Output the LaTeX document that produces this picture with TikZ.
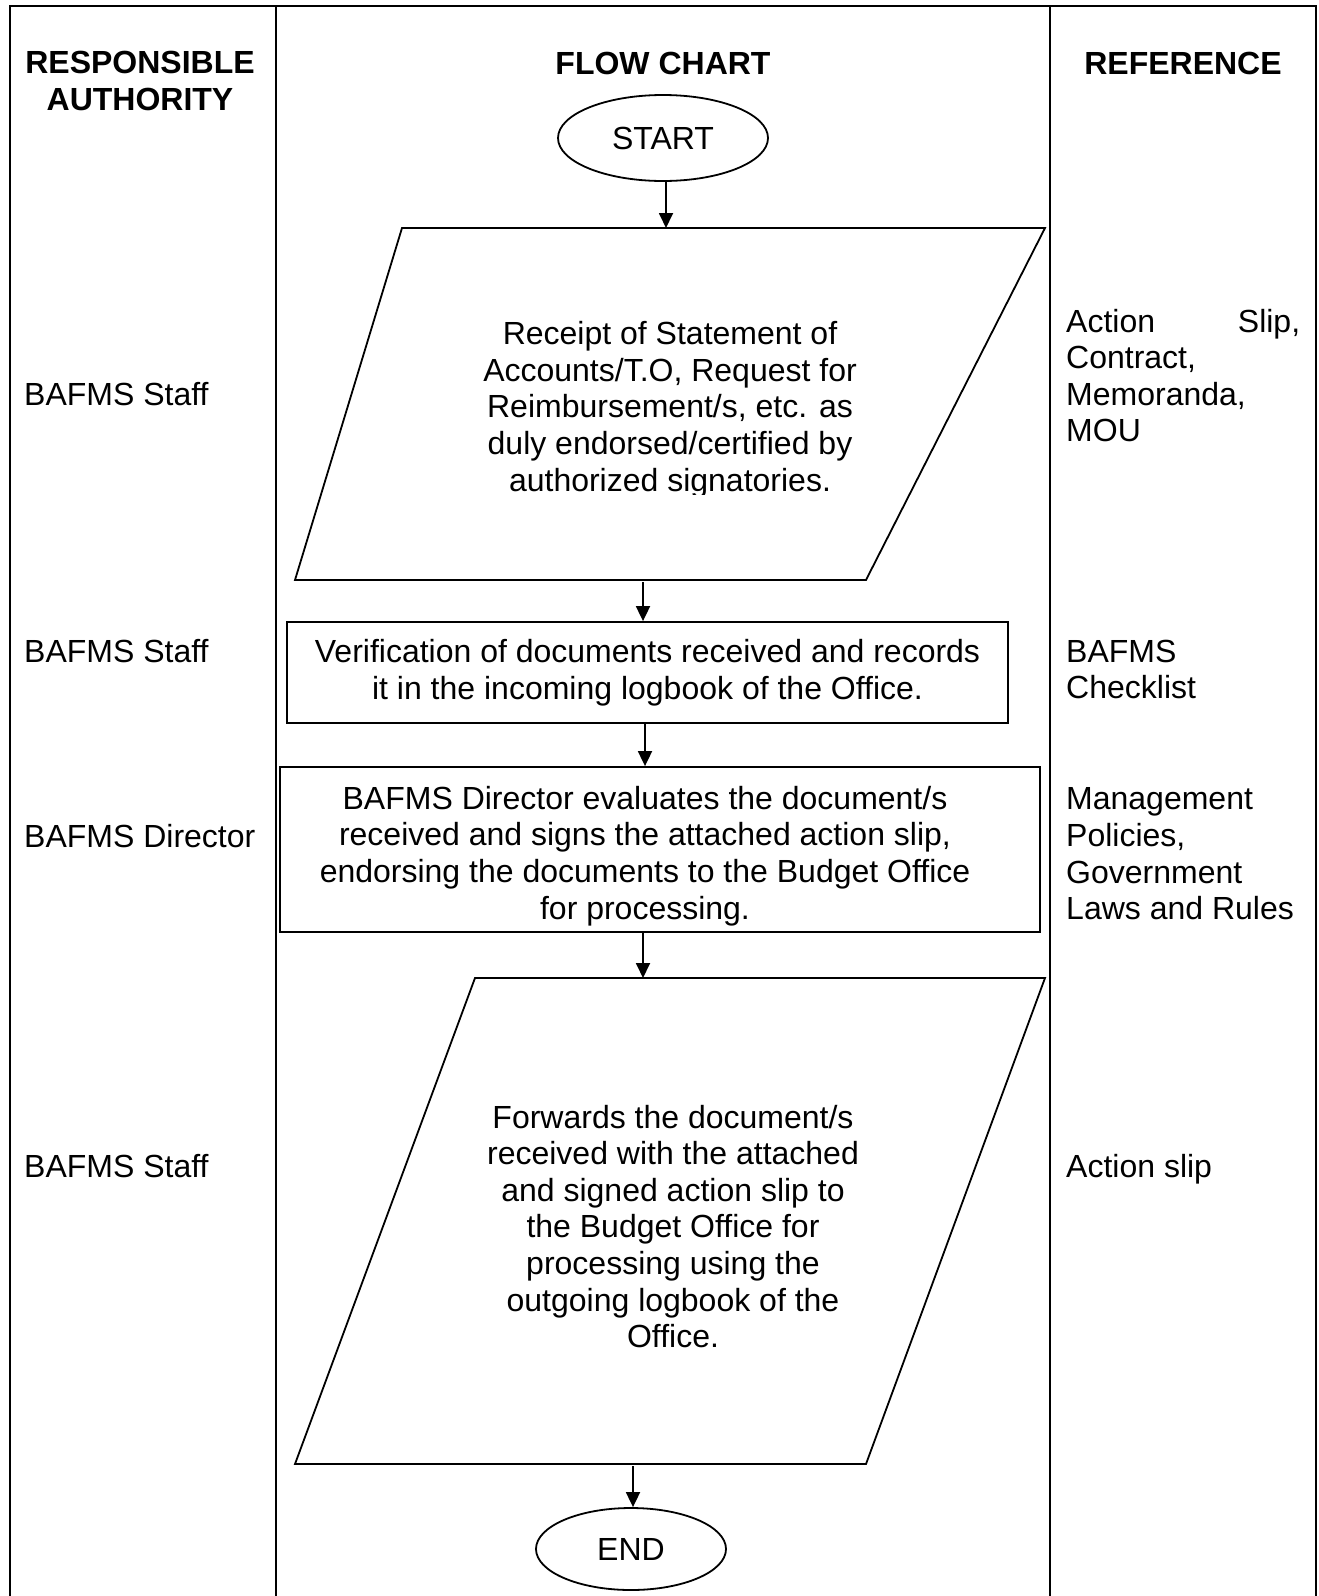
\documentclass[tikz,border=0pt]{standalone}
\usepackage{fontspec}
\setmainfont{Liberation Sans}
\usetikzlibrary{arrows.meta,shapes.geometric}
\begin{document}
\begin{tikzpicture}[x=1pt,y=-1pt,
  every node/.style={font=\fontsize{32}{36.6}\selectfont, inner sep=0pt},
  hdr/.style={font=\fontsize{32}{36.6}\selectfont\bfseries, align=center},
  frame/.style={line width=2.4pt},
  shapeline/.style={line width=1.8pt, line join=miter},
  arr/.style={line width=1.8pt, -{Triangle[length=15pt,width=14pt]}},
  term/.style={ellipse, draw, line width=1.8pt},
  procbox/.style={draw, line width=1.8pt},
  txt/.style={align=center},
  lefttxt/.style={anchor=base west},
  reftxt/.style={anchor=west, align=left},
]
\useasboundingbox (0,0) rectangle (1319,1596);
\fill[white] (0,0) rectangle (1319,1596);
% frame
\draw[frame] (10,1596) -- (10,6) -- (1316,6) -- (1316,1596);
\draw[frame] (276,6) -- (276,1596);
\draw[frame] (1050,6) -- (1050,1596);
% headers
\node[hdr] (hResp) at (140,81) {RESPONSIBLE\\AUTHORITY};
\node[hdr] (hFlow) at (663,63) {FLOW CHART};
\node[hdr] (hRef) at (1183,63) {REFERENCE};
% start
\node[term, minimum width=210pt, minimum height=86pt] (start) at (663,138) {START};
% P1
\coordinate (p1a) at (402,228);
\coordinate (p1b) at (1045,228);
\coordinate (p1c) at (866,580);
\coordinate (p1d) at (295,580);
\draw[shapeline] (p1a) -- (p1b) -- (p1c) -- (p1d) -- cycle;
\begin{scope}
\clip (295,228) rectangle (1045,494);
\node[txt] (p1) at (670,409.7) {Receipt of Statement of\\Accounts/T.O, Request for\\Reimbursement/s, etc. as\\duly endorsed/certified by\\authorized signatories.};
\end{scope}
\coordinate (p1in) at (666,228);
\coordinate (p1out) at (643,580);
\draw[arr] (start.south -| p1in) -- (p1in);
% box 2
\node[procbox, txt, minimum width=721pt, minimum height=101pt] (b2) at (647.5,672.5) {Verification of documents received and records\\it in the incoming logbook of the Office.};
\draw[arr] ([yshift=-2pt]p1out) -- (p1out |- b2.north);
% box 3
\node[procbox, minimum width=760pt, minimum height=165pt] (b3) at (660,849.5) {};
\node[txt] (b3t) at (645,856) {BAFMS Director evaluates the document/s\\received and signs the attached action slip,\\endorsing the documents to the Budget Office\\for processing.};
\draw[arr] (b2.south -| b3t) -- (b3t |- b3.north);
% P2
\coordinate (p2a) at (475,978);
\coordinate (p2b) at (1045,978);
\coordinate (p2c) at (866,1464);
\coordinate (p2d) at (295,1464);
\draw[shapeline] (p2a) -- (p2b) -- (p2c) -- (p2d) -- cycle;
\node[txt] (p2) at (673,1226.5) {Forwards the document/s\\received with the attached\\and signed action slip to\\the Budget Office for\\processing using the\\outgoing logbook of the\\Office.};
\coordinate (p2in) at (643,978);
\coordinate (p2out) at (633,1464);
\draw[arr] (b3.south -| p2in) -- (p2in);
% end
\node[term, minimum width=190pt, minimum height=82pt] (end) at (631,1549) {END};
\draw[arr] ([yshift=-2pt]p2out) -- (p2out |- end.north);
% left column
\node[lefttxt] (l1) at (24,405.5) {BAFMS Staff};
\node[lefttxt] (l2) at (24,662.5) {BAFMS Staff};
\node[lefttxt] (l3) at (24,847.5) {BAFMS Director};
\node[lefttxt] (l4) at (24,1177.5) {BAFMS Staff};
% right column
\node[reftxt] (r1) at (1066,375.5) {\makebox[234pt][s]{Action Slip,}\\Contract,\\Memoranda,\\MOU};
\node[reftxt] (r2) at (1066,669.5) {BAFMS\\Checklist};
\node[reftxt] (r3) at (1066,854) {Management\\Policies,\\Government\\Laws and Rules};
\node[lefttxt] (r4) at (1066,1177.5) {Action slip};
\end{tikzpicture}
\end{document}
